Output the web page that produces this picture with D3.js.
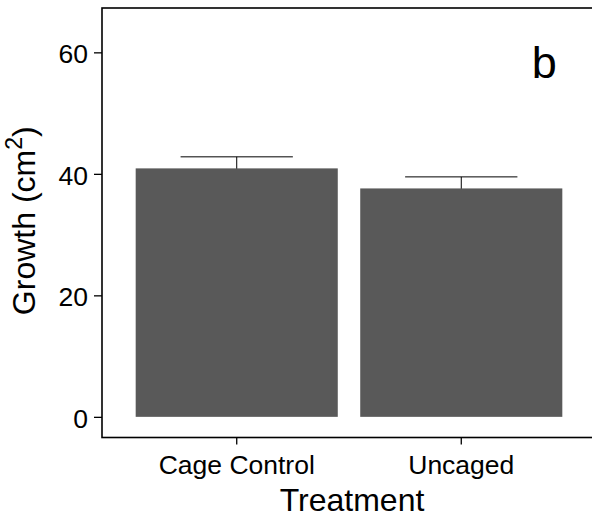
<!DOCTYPE html>
<html>
<head>
<meta charset="utf-8">
<script src="https://cdn.jsdelivr.net/npm/d3@7"></script>
<style>
  body { margin: 0; background: #fff; }
  text { font-family: "Liberation Sans", Arial, sans-serif; fill: #000; }
</style>
</head>
<body>
<div id="chart"></div>
<script>
// chart values
var treatments = ["Cage Control", "Uncaged"];
var growth = [40.9, 37.6];
var growthSE = [1.9, 1.9];
var yTicks = [0, 20, 40, 60];
var yDomain = [-3.4, 67.3];
var panelLabel = "b";
var panelLabelPos = [2.37, 58.5]; // x in category units (1 = first bar), y in cm2

(function() {
  var width = 592,
      height = 517,
      // panel edges in px
      left = 102, right = 596, top = 8, bottom = 437.5;

  var svg = d3.select("#chart")
      .append("svg")
      .attr("width", width)
      .attr("height", height);

  // ggplot style discrete axis: bar width 0.9, 0.6 expansion each side
  var x = d3.scaleBand()
      .domain(treatments)
      .range([left, right])
      .paddingInner(0.1)
      .paddingOuter(0.15);

  var y = d3.scaleLinear()
      .domain(yDomain)
      .range([bottom, top]);

  var rows = treatments.map(function(t, i) {
    return {name: t, mean: growth[i], se: growthSE[i]};
  });

  var step = x.step();
  var barCenter = function(d) { return x(d.name) + x.bandwidth() / 2; };

  // error bars go first, the bars hide the lower half
  var eb = svg.append("g")
      .attr("stroke", "#000")
      .attr("stroke-width", 1);
  rows.forEach(function(d) {
    var cx = barCenter(d), hw = step * 0.25;
    eb.append("line")
      .attr("x1", cx).attr("x2", cx)
      .attr("y1", y(d.mean - d.se)).attr("y2", y(d.mean + d.se));
    eb.append("line")
      .attr("x1", cx - hw).attr("x2", cx + hw)
      .attr("y1", y(d.mean + d.se)).attr("y2", y(d.mean + d.se));
    eb.append("line")
      .attr("x1", cx - hw).attr("x2", cx + hw)
      .attr("y1", y(d.mean - d.se)).attr("y2", y(d.mean - d.se));
  });

  svg.append("g").selectAll("rect")
    .data(rows)
    .enter()
    .append("rect")
    .attr("x", function(d) { return x(d.name); })
    .attr("width", x.bandwidth())
    .attr("y", function(d) { return y(d.mean); })
    .attr("height", function(d) { return y(0) - y(d.mean); })
    .attr("fill", "#595959");

  // panel letter
  svg.append("text")
    .attr("x", left + step * (panelLabelPos[0] - 0.4))
    .attr("y", y(panelLabelPos[1]))
    .attr("dy", "0.36em")
    .attr("text-anchor", "middle")
    .style("font-size", "45px")
    .text(panelLabel);

  // axes
  var yAxis = d3.axisLeft(y)
      .tickValues(yTicks)
      .tickSize(8)
      .tickPadding(6)
      .tickSizeOuter(0);
  var gy = svg.append("g")
      .attr("transform", "translate(" + left + ",0)")
      .call(yAxis);
  gy.select(".domain").remove();
  gy.selectAll(".tick line").attr("stroke-width", 1.3);
  gy.selectAll("text")
    .style("font-size", "26.5px")
    .attr("dy", "0.4em")
    .attr("font-family", null);

  var xAxis = d3.axisBottom(x)
      .tickSize(7)
      .tickPadding(11)
      .tickSizeOuter(0);
  var gx = svg.append("g")
      .attr("transform", "translate(0," + bottom + ")")
      .call(xAxis);
  gx.select(".domain").remove();
  gx.selectAll(".tick line").attr("stroke-width", 1.3);
  gx.selectAll("text")
    .style("font-size", "26.5px")
    .attr("font-family", null);

  // panel border
  svg.append("rect")
    .attr("x", left)
    .attr("y", top)
    .attr("width", right - left)
    .attr("height", bottom - top)
    .attr("fill", "none")
    .attr("stroke", "#000")
    .attr("stroke-width", 1.6);

  // axis titles
  svg.append("text")
    .attr("x", (left + right) / 2 + 3)
    .attr("y", 511)
    .attr("text-anchor", "middle")
    .style("font-size", "32px")
    .text("Treatment");

  var yl = svg.append("text")
    .attr("transform", "translate(35," + ((top + bottom) / 2 - 2) + ") rotate(-90)")
    .attr("text-anchor", "middle")
    .style("font-size", "32px");
  yl.append("tspan").text("Growth (cm");
  yl.append("tspan")
    .attr("dy", "-0.55em")
    .style("font-size", "23px")
    .text("2");
  yl.append("tspan")
    .attr("dy", "0.4em")
    .text(")");
})();
</script>
</body>
</html>
